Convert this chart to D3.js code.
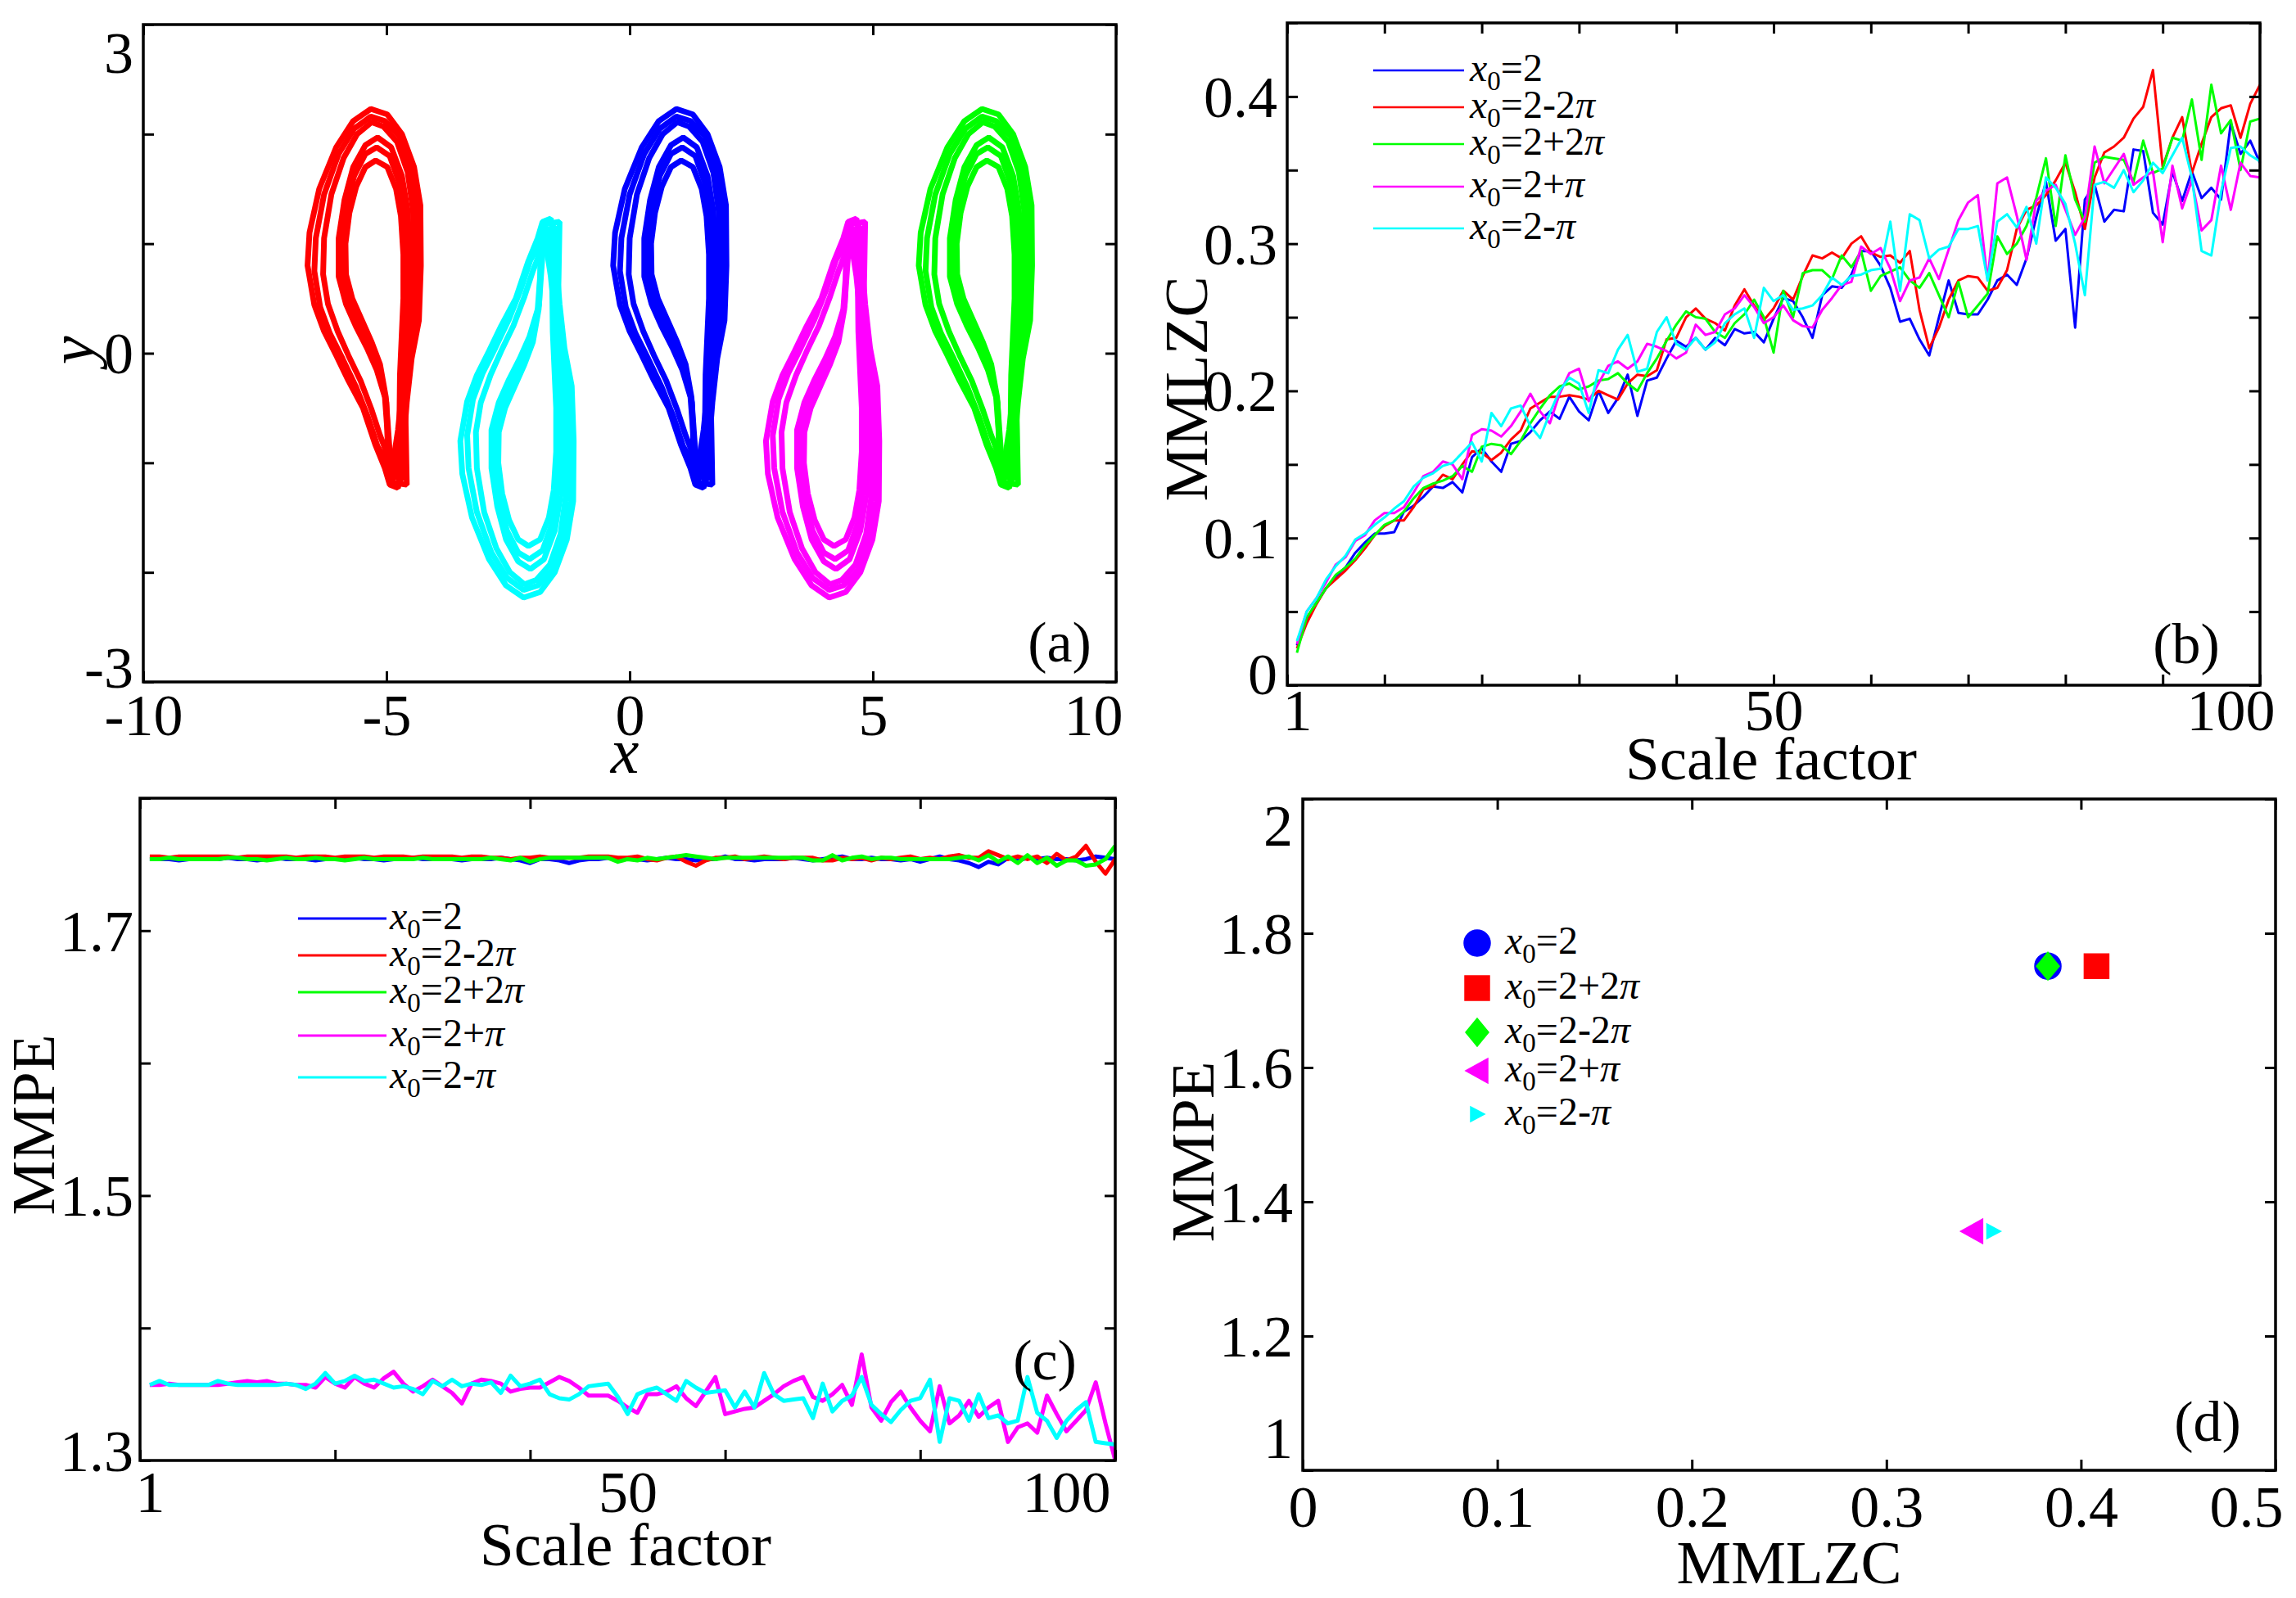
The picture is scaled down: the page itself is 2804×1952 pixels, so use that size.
<!DOCTYPE html>
<html><head><meta charset="utf-8">
<script src="https://cdnjs.cloudflare.com/ajax/libs/d3/7.8.5/d3.min.js"></script>
<style>
html,body{margin:0;padding:0;background:#fff;}
svg{display:block;}
text{font-family:"Liberation Serif","Times New Roman",serif;fill:#000;}
</style></head><body>
<svg id="fig" width="2804" height="1952"></svg>
<script>
// ---------------- DATA ----------------
const seriesColors = ["#0000FF", "#FF0000", "#00FF00", "#FF00FF", "#00FFFF"];
const seriesLabelsBC = ["=2", "=2-2", "=2+2", "=2+", "=2-"];
const seriesPiBC = [false, true, true, true, true];

// (a) phase portrait: rings of the x0=2 trajectory (x, y)
const ringsUpright = [
  [[1.52,-1.23],[1.62,-0.9],[1.7,-0.45],[1.8,-0.05],[1.95,0.3],[1.99,0.8],[1.98,1.35],[1.85,1.7],[1.6,2.0],[1.3,2.18],[0.96,2.23],[0.6,2.12],[0.25,1.88],[-0.1,1.5],[-0.3,1.1],[-0.34,0.8],[-0.2,0.44],[0.0,0.2],[0.25,-0.02],[0.5,-0.25],[0.8,-0.5],[1.05,-0.83],[1.25,-1.05],[1.35,-1.2]],
  [[1.45,-1.15],[1.58,-0.8],[1.66,-0.4],[1.76,-0.05],[1.88,0.3],[1.92,0.8],[1.9,1.35],[1.78,1.7],[1.55,1.98],[1.25,2.12],[0.96,2.16],[0.62,2.05],[0.3,1.82],[0.0,1.45],[-0.17,1.05],[-0.2,0.75],[-0.08,0.42],[0.12,0.18],[0.38,-0.05],[0.65,-0.3],[0.9,-0.58],[1.1,-0.85],[1.3,-1.0]],
  [[1.4,-1.05],[1.52,-0.7],[1.6,-0.35],[1.7,0.0],[1.8,0.35],[1.85,0.8],[1.83,1.3],[1.72,1.65],[1.5,1.93],[1.22,2.07],[0.98,2.11],[0.68,2.0],[0.4,1.78],[0.15,1.45],[0.0,1.05],[-0.02,0.72],[0.08,0.45],[0.28,0.2],[0.5,-0.02],[0.75,-0.25],[0.98,-0.52],[1.15,-0.75],[1.3,-0.92]],
  [[1.62,-1.15],[1.62,-0.6],[1.62,-0.3],[1.66,0.05],[1.73,0.4],[1.76,0.85],[1.72,1.3],[1.6,1.62],[1.38,1.88],[1.1,1.97],[0.85,1.9],[0.6,1.7],[0.42,1.4],[0.3,1.05],[0.3,0.7],[0.45,0.45],[0.65,0.25],[0.88,0.05],[1.08,-0.15],[1.25,-0.4],[1.3,-0.7],[1.32,-1.1]],
  [[1.7,-1.2],[1.68,-0.7],[1.66,-0.3],[1.66,0.1],[1.68,0.45],[1.7,0.85],[1.66,1.25],[1.55,1.55],[1.35,1.8],[1.08,1.88],[0.85,1.82],[0.62,1.62],[0.46,1.35],[0.38,1.05],[0.38,0.72],[0.5,0.48],[0.7,0.28],[0.92,0.08],[1.12,-0.12],[1.28,-0.45],[1.32,-0.9],[1.42,-1.18]],
  [[1.55,-1.05],[1.55,-0.6],[1.56,-0.2],[1.6,0.2],[1.63,0.5],[1.63,0.9],[1.58,1.25],[1.48,1.5],[1.3,1.7],[1.06,1.76],[0.85,1.7],[0.66,1.52],[0.52,1.28],[0.44,1.0],[0.45,0.72],[0.58,0.5],[0.78,0.3],[0.98,0.1],[1.15,-0.1],[1.27,-0.4],[1.35,-0.9]]
];
// per attractor: horizontal offset of the initial condition and y-orientation
const attractorColors = ["#FF0000", "#00FFFF", "#0000FF", "#FF00FF", "#00FF00"];
const attractorShift = [-2 * Math.PI, -Math.PI, 0, Math.PI, 2 * Math.PI];
const attractorFlip = [1, -1, 1, -1, 1];
const aXTicks = [-10, -5, 0, 5, 10];
const aYTicks = [-3, -2, -1, 0, 1, 2, 3];
const aYLabels = [-3, 0, 3];

// (b) MMLZC vs scale factor
const scaleFactors = d3.range(1, 101);
const mmlzcX2 = [0.027,0.045,0.056,0.066,0.074,0.080,0.090,0.097,0.103,0.103,0.104,0.118,0.122,0.128,0.135,0.134,0.138,0.131,0.155,0.161,0.152,0.145,0.164,0.166,0.172,0.180,0.186,0.181,0.196,0.186,0.180,0.200,0.185,0.195,0.211,0.183,0.207,0.209,0.222,0.234,0.230,0.236,0.228,0.236,0.231,0.242,0.239,0.240,0.233,0.249,
 0.263,0.261,0.250,0.236,0.265,0.271,0.270,0.279,0.295,0.295,0.285,0.270,0.247,0.249,0.235,0.224,0.250,0.275,0.253,0.252,0.252,0.262,0.275,0.279,0.272,0.290,0.318,0.342,0.302,0.310,0.243,0.330,0.340,0.315,0.323,0.322,0.364,0.363,0.321,0.313,0.349,0.329,0.349,0.331,0.338,0.330,0.382,0.361,0.370,0.355];
const mmlzcX2m2pi = [0.025,0.042,0.055,0.066,0.072,0.078,0.085,0.093,0.102,0.108,0.112,0.112,0.121,0.133,0.135,0.143,0.140,0.150,0.159,0.158,0.153,0.158,0.167,0.173,0.188,0.192,0.196,0.196,0.197,0.196,0.194,0.200,0.197,0.194,0.205,0.211,0.210,0.214,0.235,0.236,0.250,0.256,0.249,0.246,0.241,0.258,0.269,0.258,0.248,0.256,
 0.268,0.262,0.278,0.292,0.290,0.294,0.290,0.300,0.305,0.294,0.291,0.292,0.287,0.295,0.255,0.229,0.243,0.262,0.275,0.278,0.277,0.268,0.270,0.282,0.310,0.323,0.326,0.333,0.343,0.355,0.335,0.310,0.345,0.362,0.366,0.372,0.385,0.393,0.418,0.352,0.372,0.386,0.348,0.368,0.386,0.392,0.394,0.372,0.395,0.408];
const mmlzcX2p2pi = [0.022,0.046,0.056,0.066,0.075,0.080,0.086,0.095,0.102,0.109,0.112,0.118,0.127,0.134,0.137,0.139,0.142,0.149,0.145,0.162,0.164,0.163,0.157,0.166,0.178,0.188,0.197,0.203,0.205,0.201,0.203,0.207,0.208,0.212,0.205,0.200,0.212,0.222,0.234,0.245,0.254,0.250,0.249,0.240,0.236,0.246,0.252,0.262,0.250,0.226,
 0.268,0.250,0.280,0.282,0.282,0.276,0.292,0.284,0.295,0.268,0.278,0.281,0.284,0.275,0.270,0.280,0.265,0.250,0.274,0.250,0.258,0.266,0.305,0.293,0.300,0.312,0.331,0.358,0.312,0.360,0.330,0.315,0.355,0.359,0.358,0.357,0.342,0.370,0.348,0.351,0.372,0.370,0.398,0.357,0.408,0.375,0.384,0.350,0.383,0.385];
const mmlzcX2ppi = [0.028,0.050,0.059,0.070,0.082,0.087,0.098,0.102,0.112,0.117,0.117,0.121,0.131,0.142,0.145,0.152,0.150,0.140,0.170,0.174,0.173,0.169,0.176,0.186,0.198,0.186,0.178,0.198,0.212,0.215,0.193,0.205,0.217,0.220,0.215,0.220,0.232,0.230,0.227,0.222,0.226,0.245,0.238,0.240,0.252,0.256,0.265,0.257,0.246,0.250,
 0.258,0.248,0.244,0.243,0.255,0.263,0.272,0.274,0.298,0.293,0.297,0.283,0.261,0.275,0.277,0.290,0.276,0.296,0.316,0.328,0.333,0.275,0.341,0.345,0.319,0.289,0.329,0.336,0.340,0.323,0.306,0.318,0.366,0.341,0.351,0.361,0.340,0.345,0.349,0.301,0.353,0.324,0.343,0.309,0.316,0.353,0.323,0.355,0.346,0.345];
const mmlzcX2mpi = [0.030,0.050,0.059,0.072,0.081,0.088,0.099,0.103,0.109,0.114,0.120,0.125,0.135,0.141,0.144,0.149,0.151,0.158,0.165,0.152,0.185,0.176,0.188,0.190,0.176,0.168,0.185,0.200,0.209,0.205,0.185,0.214,0.212,0.228,0.238,0.213,0.215,0.240,0.250,0.232,0.228,0.236,0.228,0.233,0.246,0.252,0.256,0.236,0.270,0.261,
 0.265,0.255,0.256,0.258,0.265,0.277,0.272,0.278,0.279,0.282,0.283,0.315,0.268,0.320,0.316,0.290,0.296,0.298,0.310,0.310,0.312,0.275,0.315,0.320,0.311,0.325,0.300,0.345,0.338,0.327,0.300,0.265,0.340,0.342,0.338,0.350,0.335,0.343,0.355,0.348,0.360,0.372,0.345,0.295,0.292,0.335,0.365,0.366,0.360,0.356];
const bXTicks = [0,10,20,30,40,50,60,70,80,90,100];
const bYTicks = [0,0.05,0.1,0.15,0.2,0.25,0.3,0.35,0.4,0.45];
const bYLabels = [0,0.1,0.2,0.3,0.4];
const sfLabels = [1, 50, 100];

// (c) MMPE vs scale factor
const mmpeX2 = [1.754,1.754,1.754,1.753,1.754,1.754,1.754,1.754,1.755,1.754,1.754,1.753,1.754,1.755,1.754,1.754,1.754,1.753,1.754,1.754,1.754,1.755,1.754,1.754,1.753,1.754,1.754,1.755,1.754,1.754,1.754,1.754,1.753,1.754,1.754,1.754,1.755,1.754,1.753,1.751,1.754,1.754,1.753,1.751,1.753,1.754,1.754,1.755,1.754,1.754,
 1.754,1.753,1.754,1.755,1.754,1.754,1.753,1.754,1.754,1.756,1.754,1.754,1.753,1.754,1.754,1.754,1.755,1.754,1.753,1.754,1.755,1.756,1.754,1.754,1.755,1.754,1.754,1.753,1.754,1.752,1.754,1.756,1.754,1.753,1.751,1.748,1.752,1.750,1.755,1.753,1.755,1.754,1.755,1.754,1.754,1.753,1.754,1.756,1.755,1.754];
const mmpeX2m2pi = [1.756,1.756,1.755,1.756,1.756,1.756,1.756,1.756,1.756,1.755,1.756,1.756,1.756,1.756,1.756,1.755,1.756,1.756,1.756,1.755,1.756,1.756,1.756,1.755,1.756,1.756,1.756,1.755,1.756,1.756,1.756,1.756,1.755,1.756,1.756,1.755,1.755,1.754,1.755,1.755,1.756,1.755,1.755,1.755,1.755,1.756,1.756,1.756,1.755,1.755,
 1.756,1.754,1.753,1.755,1.756,1.752,1.749,1.753,1.755,1.755,1.756,1.754,1.755,1.756,1.755,1.754,1.755,1.755,1.755,1.753,1.753,1.755,1.754,1.755,1.753,1.755,1.754,1.755,1.756,1.754,1.755,1.754,1.756,1.757,1.755,1.755,1.760,1.757,1.754,1.756,1.754,1.756,1.751,1.758,1.753,1.756,1.764,1.752,1.743,1.754];
const mmpeX2p2pi = [1.754,1.754,1.755,1.754,1.754,1.754,1.754,1.754,1.755,1.755,1.754,1.754,1.753,1.754,1.755,1.754,1.754,1.755,1.754,1.754,1.753,1.754,1.755,1.754,1.754,1.754,1.754,1.754,1.755,1.754,1.754,1.754,1.754,1.754,1.754,1.755,1.754,1.753,1.755,1.752,1.754,1.755,1.755,1.755,1.755,1.755,1.755,1.755,1.752,1.754,
 1.753,1.755,1.754,1.755,1.756,1.757,1.756,1.755,1.754,1.755,1.755,1.755,1.755,1.755,1.755,1.755,1.755,1.755,1.753,1.753,1.757,1.753,1.755,1.756,1.754,1.755,1.755,1.754,1.754,1.754,1.754,1.754,1.754,1.755,1.756,1.753,1.757,1.752,1.756,1.751,1.757,1.751,1.755,1.749,1.753,1.753,1.749,1.750,1.754,1.764];
const mmpeX2ppi = [1.357,1.357,1.358,1.357,1.357,1.357,1.357,1.357,1.358,1.359,1.360,1.359,1.360,1.358,1.358,1.357,1.357,1.355,1.363,1.358,1.355,1.363,1.358,1.355,1.362,1.367,1.358,1.352,1.356,1.361,1.356,1.351,1.343,1.358,1.361,1.360,1.358,1.352,1.354,1.355,1.355,1.359,1.363,1.360,1.355,1.349,1.349,1.349,1.345,1.340,
 1.336,1.350,1.350,1.352,1.356,1.347,1.341,1.352,1.363,1.335,1.337,1.339,1.340,1.345,1.350,1.356,1.360,1.363,1.348,1.345,1.350,1.357,1.342,1.380,1.340,1.330,1.344,1.352,1.340,1.330,1.322,1.356,1.328,1.334,1.345,1.333,1.340,1.345,1.314,1.325,1.328,1.321,1.349,1.335,1.322,1.330,1.338,1.359,1.328,1.300];
const mmpeX2mpi = [1.357,1.360,1.357,1.357,1.357,1.357,1.357,1.360,1.358,1.357,1.357,1.357,1.357,1.357,1.358,1.357,1.354,1.358,1.366,1.358,1.360,1.364,1.360,1.361,1.358,1.355,1.356,1.354,1.350,1.360,1.356,1.361,1.356,1.358,1.357,1.359,1.351,1.364,1.356,1.358,1.361,1.350,1.347,1.346,1.350,1.356,1.357,1.358,1.348,1.335,
 1.350,1.353,1.355,1.350,1.345,1.360,1.355,1.351,1.352,1.353,1.340,1.352,1.340,1.366,1.350,1.345,1.346,1.347,1.332,1.358,1.337,1.345,1.349,1.363,1.342,1.335,1.329,1.338,1.345,1.347,1.361,1.314,1.347,1.345,1.330,1.350,1.332,1.334,1.328,1.330,1.363,1.336,1.330,1.317,1.330,1.338,1.344,1.314,1.313,1.312];
const cXTicks = [0,20,40,60,80,100];
const cYTicks = [1.3,1.4,1.5,1.6,1.7,1.8];
const cYLabels = [1.3,1.5,1.7];

// (d) MMPE vs MMLZC (mean values)
const dLabels = ["=2", "=2+2", "=2-2", "=2+", "=2-"];
const dPi = [false, true, true, true, true];
const dColors = ["#0000FF", "#FF0000", "#00FF00", "#FF00FF", "#00FFFF"];
const dShapes = ["circle", "square", "diamond", "triLeft", "triRight"];
const dMMLZC = [0.383, 0.408, 0.383, 0.344, 0.355];
const dMMPE = [1.751, 1.751, 1.751, 1.356, 1.356];
const dXTicks = [0, 0.1, 0.2, 0.3, 0.4, 0.5];
const dYTicks = [1, 1.2, 1.4, 1.6, 1.8, 2];

// ---------------- DRAWING ----------------
const svg = d3.select("#fig");
const FONT = "Liberation Serif, Times New Roman, serif";
const TICK_FS = 72, TITLE_FS = 75, TICK_LEN = 13;

function makePanel(box) {
  const g = svg.append("g").attr("transform", `translate(${box.l},${box.t})`);
  return {g, w: box.r - box.l, h: box.b - box.t};
}
function fmt(v) { return String(+v.toFixed(3)); }
function tickMarks(p, xs, ys, xt, yt) {
  const {g, w, h} = p;
  const parts = [
    [d3.axisBottom(xs).tickValues(xt), `translate(0,${h})`],
    [d3.axisTop(xs).tickValues(xt), `translate(0,0)`],
    [d3.axisLeft(ys).tickValues(yt), `translate(0,0)`],
    [d3.axisRight(ys).tickValues(yt), `translate(${w},0)`]
  ];
  parts.forEach(([ax, tr]) => {
    const a = g.append("g").attr("transform", tr)
      .call(ax.tickSize(-TICK_LEN).tickFormat(""));
    a.select(".domain").remove();
    a.selectAll("line").attr("stroke", "#000").attr("stroke-width", 3);
  });
}
function frame(p) {
  p.g.append("rect").attr("x", 0).attr("y", 0).attr("width", p.w).attr("height", p.h)
    .attr("fill", "none").attr("stroke", "#000").attr("stroke-width", 3.5);
}
function xLabelAxis(p, xs, vals, labelFmt, pad, shifts) {
  const a = p.g.append("g").attr("transform", `translate(0,${p.h})`)
    .call(d3.axisBottom(xs).tickValues(vals).tickSize(0).tickPadding(pad).tickFormat(labelFmt));
  a.select(".domain").remove();
  a.attr("font-size", TICK_FS).attr("font-family", FONT);
  a.selectAll("text").attr("fill", "#000")
    .attr("dx", (d, i) => (shifts[i] || 0));
  return a;
}
function yLabelAxis(p, ys, vals, labelFmt, pad, shifts) {
  const a = p.g.append("g")
    .call(d3.axisLeft(ys).tickValues(vals).tickSize(0).tickPadding(pad).tickFormat(labelFmt));
  a.select(".domain").remove();
  a.attr("font-size", TICK_FS).attr("font-family", FONT);
  a.selectAll("text").attr("fill", "#000").attr("dy", "0.34em")
    .attr("transform", (d, i) => `translate(0,${shifts[i] || 0})`);
  return a;
}
function title(x, y, txt, rot, size, italic) {
  const t = svg.append("text").attr("font-size", size || TITLE_FS).attr("text-anchor", "middle")
    .attr("font-style", italic ? "italic" : "normal").text(txt);
  if (rot) t.attr("transform", `translate(${x},${y}) rotate(-90)`);
  else t.attr("x", x).attr("y", y);
}
function panelLetter(x, y, txt) {
  svg.append("text").attr("x", x).attr("y", y).attr("font-size", 70)
    .attr("text-anchor", "middle").text(txt);
}
function legendLabel(sel, x, y, label, hasPi) {
  const t = sel.append("text").attr("x", x).attr("y", y).attr("font-size", 48);
  t.append("tspan").attr("font-style", "italic").text("x");
  t.append("tspan").attr("font-size", 33).attr("dy", 11).text("0");
  t.append("tspan").attr("dy", -11).text(label);
  if (hasPi) t.append("tspan").attr("font-style", "italic").text("\u03C0");
}

// ---- Panel (a)
{
  const p = makePanel({l: 175, r: 1363, t: 30, b: 833});
  const xs = d3.scaleLinear().domain([-10, 10]).range([0, p.w]);
  const ys = d3.scaleLinear().domain([-3, 3]).range([p.h, 0]);
  const clipId = "clipA";
  p.g.append("clipPath").attr("id", clipId).append("rect").attr("width", p.w).attr("height", p.h);
  const lay = p.g.append("g").attr("clip-path", `url(#${clipId})`);
  attractorColors.forEach((col, k) => {
    const line = d3.line()
      .x(d => xs(d[0] + attractorShift[k]))
      .y(d => ys(attractorFlip[k] * d[1]))
      .curve(d3.curveLinearClosed);
    lay.append("g").selectAll("path").data(ringsUpright).join("path")
      .attr("d", line).attr("fill", "none").attr("stroke", col)
      .attr("stroke-width", 7).attr("stroke-linejoin", "bevel");
  });
  tickMarks(p, xs, ys, aXTicks, aYTicks);
  frame(p);
  xLabelAxis(p, xs, aXTicks, d => String(d), 14, [0, 0, 0, 0, -28]);
  yLabelAxis(p, ys, aYLabels, d => String(d), 12, [-18, 0, 34]);
  title(763, 944, "x", false, 78, true);
  title(114, 428, "y", true, 78, true);
  panelLetter(1294, 808, "(a)");
}

// ---- Panel (b)
{
  const p = makePanel({l: 1572, r: 2760, t: 28, b: 837});
  const xs = d3.scaleLinear().domain([0, 100]).range([0, p.w]);
  const ys = d3.scaleLinear().domain([0, 0.45]).range([p.h, 0]);
  const series = [mmlzcX2, mmlzcX2m2pi, mmlzcX2p2pi, mmlzcX2ppi, mmlzcX2mpi];
  const line = d3.line().x((d, i) => xs(scaleFactors[i])).y(d => ys(d));
  series.forEach((s, k) => {
    p.g.append("path").datum(s).attr("d", line).attr("fill", "none")
      .attr("stroke", seriesColors[k]).attr("stroke-width", 3).attr("stroke-linejoin", "round");
  });
  tickMarks(p, xs, ys, bXTicks, bYTicks);
  frame(p);
  xLabelAxis(p, xs, sfLabels, d => String(d), 4, [0, 0, -36]);
  yLabelAxis(p, ys, bYLabels, fmt, 12, [-14, 0, 0, 0, 0]);
  title(2163, 952, "Scale factor");
  title(1474, 475, "MMLZC", true);
  panelLetter(2670, 810, "(b)");
  const lg = svg.append("g");
  const rows = [86, 131, 176, 228, 279];
  seriesColors.forEach((c, k) => {
    lg.append("line").attr("x1", 1677).attr("x2", 1788).attr("y1", rows[k]).attr("y2", rows[k])
      .attr("stroke", c).attr("stroke-width", 2.5);
    legendLabel(lg, 1795, rows[k] + 13, seriesLabelsBC[k], seriesPiBC[k]);
  });
}

// ---- Panel (c)
{
  const p = makePanel({l: 171, r: 1362, t: 975, b: 1784});
  const xs = d3.scaleLinear().domain([0, 100]).range([0, p.w]);
  const ys = d3.scaleLinear().domain([1.3, 1.8]).range([p.h, 0]);
  const series = [mmpeX2, mmpeX2m2pi, mmpeX2p2pi, mmpeX2ppi, mmpeX2mpi];
  const line = d3.line().x((d, i) => xs(scaleFactors[i])).y(d => ys(d));
  p.g.append("clipPath").attr("id", "clipC").append("rect").attr("width", p.w).attr("height", p.h);
  const lay = p.g.append("g").attr("clip-path", "url(#clipC)");
  series.forEach((s, k) => {
    lay.append("path").datum(s).attr("d", line).attr("fill", "none")
      .attr("stroke", seriesColors[k]).attr("stroke-width", 5).attr("stroke-linejoin", "round");
  });
  tickMarks(p, xs, ys, cXTicks, cYTicks);
  frame(p);
  xLabelAxis(p, xs, sfLabels, d => String(d), 12, [0, 0, -60]);
  yLabelAxis(p, ys, cYLabels, fmt, 8, [-12, 0, 0]);
  title(764, 1912, "Scale factor");
  title(66, 1374, "MMPE", true);
  panelLetter(1276, 1685, "(c)");
  const lg = svg.append("g");
  const rows = [1122, 1167, 1212, 1265, 1316];
  seriesColors.forEach((c, k) => {
    lg.append("line").attr("x1", 364).attr("x2", 472).attr("y1", rows[k]).attr("y2", rows[k])
      .attr("stroke", c).attr("stroke-width", 3);
    legendLabel(lg, 476, rows[k] + 13, seriesLabelsBC[k], seriesPiBC[k]);
  });
}

// ---- Panel (d)
function markerPath(shape) {
  const pth = d3.path();
  if (shape === "circle") { pth.arc(0, 0, 16, 0, 2 * Math.PI); }
  else if (shape === "square") { pth.rect(-15, -15, 30, 30); }
  else if (shape === "diamond") { pth.moveTo(0, -17); pth.lineTo(14, 0); pth.lineTo(0, 17); pth.lineTo(-14, 0); pth.closePath(); }
  else if (shape === "triLeft") { pth.moveTo(-14, 0); pth.lineTo(13, -15); pth.lineTo(13, 15); pth.closePath(); }
  else if (shape === "triRight") { pth.moveTo(9, 0); pth.lineTo(-8, -9); pth.lineTo(-8, 9); pth.closePath(); }
  return pth.toString();
}
{
  const p = makePanel({l: 1591, r: 2779, t: 976, b: 1796});
  const xs = d3.scaleLinear().domain([0, 0.5]).range([0, p.w]);
  const ys = d3.scaleLinear().domain([1, 2]).range([p.h, 0]);
  p.g.append("g").selectAll("path").data(dShapes).join("path")
    .attr("d", s => markerPath(s))
    .attr("transform", (s, i) => `translate(${xs(dMMLZC[i])},${ys(dMMPE[i])})`)
    .attr("fill", (s, i) => dColors[i]).attr("stroke", (s, i) => dColors[i]).attr("stroke-width", 1.5);
  tickMarks(p, xs, ys, dXTicks, dYTicks);
  frame(p);
  xLabelAxis(p, xs, dXTicks, fmt, 18, [0, 0, 0, 0, 0, -36]);
  yLabelAxis(p, ys, dYTicks, fmt, 12, [-40, 0, 0, 0, 0, 32]);
  title(2185, 1934, "MMLZC");
  title(1482, 1407, "MMPE", true);
  panelLetter(2696, 1760, "(d)");
  const lg = svg.append("g");
  const rows = [1152, 1207, 1261, 1308, 1361];
  dShapes.forEach((s, k) => {
    lg.append("path").attr("d", markerPath(s)).attr("transform", `translate(1804,${rows[k]})`)
      .attr("fill", dColors[k]).attr("stroke", dColors[k]).attr("stroke-width", 1.5);
    legendLabel(lg, 1838, rows[k] + 13, dLabels[k], dPi[k]);
  });
}
</script>
</body></html>
